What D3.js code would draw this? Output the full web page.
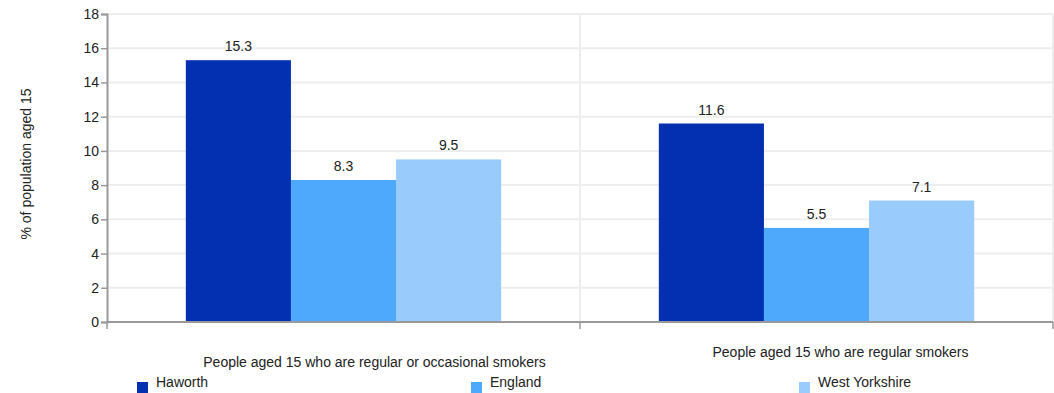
<!DOCTYPE html>
<html><head><meta charset="utf-8">
<script src="https://cdn.jsdelivr.net/npm/d3@7"></script>
<style>body{margin:0;background:#fff}svg{display:block}text{font-family:"Liberation Sans",Arial,sans-serif;fill:#222}</style>
</head><body>
<svg id="c" width="1054" height="393"></svg>
<script>
const categories = ["People aged 15 who are regular or occasional smokers", "People aged 15 who are regular smokers"];
const seriesNames = ["Haworth", "England", "West Yorkshire"];
const haworth = [15.3, 11.6];
const england = [8.3, 5.5];
const westYorkshire = [9.5, 7.1];
const yTicks = [0, 2, 4, 6, 8, 10, 12, 14, 16, 18];
const colors = ["#0230b0", "#4ea8fc", "#99cbfd"];

const svg = d3.select("#c");
const m = {l:107, r:1053, t:14, b:322};
const x = d3.scaleBand().domain(categories).range([m.l, m.r]);
const xs = d3.scaleBand().domain(seriesNames).range([0, x.bandwidth()]).paddingOuter(0.75).paddingInner(0);
const y = d3.scaleLinear().domain([0, 18]).range([m.b, m.t]);
const FS = 14;

// horizontal grid
svg.append("g").selectAll("line").data(yTicks.filter(d=>d>0)).join("line")
  .attr("x1", m.l).attr("x2", m.r).attr("y1", d=>y(d)).attr("y2", d=>y(d))
  .attr("stroke", "#eeeeee").attr("stroke-width", 2);
// vertical grid
svg.append("g").selectAll("line").data(categories).join("line")
  .attr("x1", d=>x(d)+x.bandwidth()).attr("x2", d=>x(d)+x.bandwidth())
  .attr("y1", m.t).attr("y2", m.b)
  .attr("stroke", "#eeeeee").attr("stroke-width", 2);

const data = [haworth, england, westYorkshire];
const g = svg.append("g");
categories.forEach((c, ci) => {
  seriesNames.forEach((s, si) => {
    const v = data[si][ci];
    g.append("rect").attr("x", x(c)+xs(s)).attr("width", xs.bandwidth())
      .attr("y", y(v)).attr("height", y(0)-y(v)).attr("fill", colors[si]);
    g.append("text").attr("x", x(c)+xs(s)+xs.bandwidth()/2).attr("y", y(v)-9)
      .attr("text-anchor", "middle").attr("font-size", FS).text(v);
  });
});

// y axis
const ya = svg.append("g").attr("transform", `translate(${m.l},0)`)
  .call(d3.axisLeft(y).tickValues(yTicks).tickSize(6).tickPadding(2).tickFormat(d3.format("d")));
ya.select(".domain").attr("stroke", "#999").attr("stroke-width", 2);
ya.selectAll(".tick line").attr("stroke", "#999").attr("stroke-width", 1.5);
ya.selectAll(".tick text").attr("font-size", FS).attr("font-family", "Liberation Sans, Arial, sans-serif").attr("fill", "#222");

// x axis
svg.append("line").attr("x1", m.l).attr("x2", m.r).attr("y1", m.b).attr("y2", m.b)
  .attr("stroke", "#999").attr("stroke-width", 2);
const xt = [m.l].concat(categories.map(c=>x(c)+x.bandwidth()));
svg.append("g").selectAll("line").data(xt).join("line")
  .attr("x1", d=>d).attr("x2", d=>d).attr("y1", m.b).attr("y2", m.b+7)
  .attr("stroke", "#999").attr("stroke-width", 1.5);

// category labels (staggered)
const labelY = [367, 357];
const labelOff = [31, 24];
svg.append("g").selectAll("text").data(categories).join("text")
  .attr("x", (d,i)=>x(d)+x.bandwidth()/2+labelOff[i]).attr("y", (d,i)=>labelY[i])
  .attr("text-anchor", "middle").attr("font-size", FS).text(d=>d);

// y label
svg.append("text").attr("transform", "translate(31,164) rotate(-90)")
  .attr("text-anchor", "middle").attr("font-size", FS).text("% of population aged 15");

// legend
const legX = [137, 471, 799];
const lg = svg.append("g").selectAll("g").data(seriesNames).join("g")
  .attr("transform", (d,i)=>`translate(${legX[i]},382)`);
lg.append("rect").attr("width", 11).attr("height", 11).attr("fill", (d,i)=>colors[i]);
lg.append("text").attr("x", 19).attr("y", 5).attr("font-size", FS).text(d=>d);
</script>
</body></html>
